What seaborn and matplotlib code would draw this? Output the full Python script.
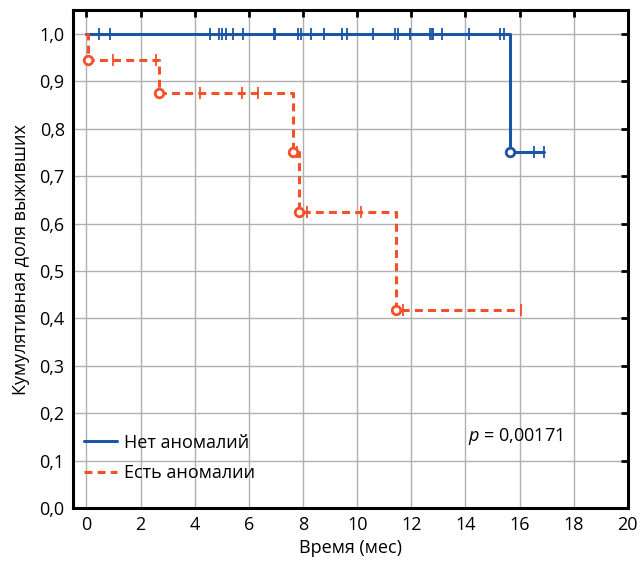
import matplotlib
matplotlib.use("Agg")
import matplotlib.pyplot as plt
import seaborn as sns
import numpy as np
import pandas as pd

sns.set_style("whitegrid")
plt.rcParams['font.family'] = ['Open Sans', 'DejaVu Sans']
plt.rcParams['mathtext.fontset'] = 'custom'
plt.rcParams['mathtext.it'] = 'Open Sans:italic'
plt.rcParams['mathtext.rm'] = 'Open Sans'
plt.rcParams['text.color'] = 'black'
plt.rcParams['axes.labelcolor'] = 'black'

# group without anomalies
no_anom_events = [15.65]
no_anom_surv = [0.75]
no_anom_censored = [0.45, 0.85, 4.56, 4.89, 5.02, 5.14, 5.41, 5.80, 6.92, 6.98,
                    7.83, 7.91, 8.31, 8.77, 9.45, 9.63, 10.57, 11.38, 11.50, 11.97,
                    12.69, 12.75, 12.80, 13.15, 14.15, 15.27, 15.44, 16.54, 16.91]

# group with anomalies
anom_events = [0.05, 2.67, 7.64, 7.85, 11.42]
anom_surv = [0.944, 0.875, 0.75, 0.625, 0.417]
anom_censored = [0.97, 2.58, 4.21, 5.76, 6.33, 7.78, 8.16, 10.15, 11.69, 16.04]

labels = ['Нет аномалий', 'Есть аномалии']
p_text = '0,00171'
x_ticks = list(range(0, 21, 2))
y_ticks = [0.0, 0.1, 0.2, 0.3, 0.4, 0.5, 0.6, 0.7, 0.8, 0.9, 1.0]
y_tick_labels = ['0,0', '0,1', '0,2', '0,3', '0,4', '0,5', '0,6', '0,7', '0,8', '0,9', '1,0']

blue = '#1a56a5'
orange = '#f4502a'


def km_frame(events, surv, censored):
    end = max(max(censored), max(events))
    t = [0.0] + list(events) + [end]
    s = [1.0] + list(surv) + [surv[-1]]
    return pd.DataFrame({'t': t, 's': s})


def surv_at(times, events, surv):
    idx = np.searchsorted(events, times, side='right')
    vals = np.r_[1.0, surv]
    return vals[idx]


fig = plt.figure(figsize=(6.4, 5.62), dpi=100)
ax = fig.add_axes([0.114, 0.096, 0.867, 0.886])

groups = [
    (no_anom_events, no_anom_surv, no_anom_censored, blue, '-'),
    (anom_events, anom_surv, anom_censored, orange, '--'),
]
for (ev, sv, cs, col, ls), lab in zip(groups, labels):
    df = km_frame(ev, sv, cs)
    line = sns.lineplot(x='t', y='s', data=df, ax=ax, color=col, lw=2.2,
                        drawstyle='steps-post', estimator=None, sort=False,
                        label=lab)
    if ls == '--':
        line.lines[-1].set_dashes((2.6, 1.7))
    cdf = pd.DataFrame({'t': cs, 's': surv_at(cs, ev, sv)})
    sns.scatterplot(x='t', y='s', data=cdf, ax=ax, marker='|', s=70,
                    color=col, linewidth=1.3, legend=False, zorder=4)
    edf = pd.DataFrame({'t': ev, 's': sv})
    sns.scatterplot(x='t', y='s', data=edf, ax=ax, marker='o', s=38,
                    facecolor='white', edgecolor=col, linewidth=2,
                    legend=False, zorder=5)

ax.set_xlim(-0.5, 20)
ax.set_ylim(0, 1.05)
ax.set_xticks(x_ticks)
ax.set_yticks(y_ticks)
ax.set_yticklabels(y_tick_labels)
ax.tick_params(axis='both', which='both', direction='in', length=5, width=2,
               top=True, right=True, labelsize=13, pad=6, colors='black')
ax.grid(True, color='#b0b0b0', lw=1)
for sp in ax.spines.values():
    sp.set_color('black')
    sp.set_linewidth(2.2)
ax.set_xlabel('Время (мес)', fontsize=13, labelpad=3)
ax.set_ylabel('Кумулятивная доля выживших', fontsize=13, labelpad=7)

ax.legend(loc='lower left', bbox_to_anchor=(0.0, 0.03), frameon=False,
          fontsize=13, handlelength=1.85, handletextpad=0.4, labelspacing=0.7,
          borderaxespad=0.2, labelcolor='black')
ax.text(0.712, 0.143, '$p$ = ' + p_text, transform=ax.transAxes, fontsize=13,
        ha='left', va='center', color='black')

fig.savefig('out.png', dpi=100)
